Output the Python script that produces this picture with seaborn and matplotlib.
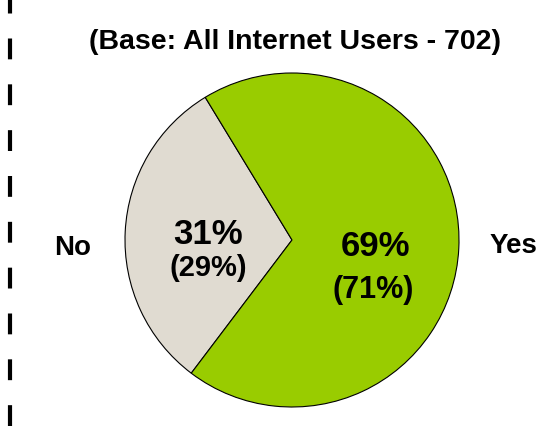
import seaborn as sns
import matplotlib.pyplot as plt

# data
answers = ["No", "Yes"]
shares = [31, 69]
prev_shares = [29, 71]
title = "(Base: All Internet Users - 702)"
colors = ["#E0DBD1", "#99CC00"]

sns.set_theme(style="white")
plt.rcParams['font.family'] = ['Liberation Sans', 'DejaVu Sans']
plt.rcParams['text.color'] = 'black'

fig = plt.figure(figsize=(5.38, 4.26), dpi=100)
ax = fig.add_axes([0, 0, 1, 1])

# pie (centre at pixel 292,240 from top)
ax.pie(shares, colors=colors, startangle=121.3, counterclock=True,
       center=(292, 426 - 240), radius=167, frame=True,
       wedgeprops={"edgecolor": "black", "linewidth": 0.8})
ax.set_xlim(0, 538)
ax.set_ylim(0, 426)
ax.axis("off")

# dashed divider on the left
ax.plot([10, 10], [0, 426], color="black", lw=3, dashes=(5, 6))

ax.text(295, 426 - 42, title, ha="center", va="center",
        fontsize=20.5, fontweight="bold")

# category labels
ax.text(73, 426 - 248, answers[0], ha="center", va="center",
        fontsize=20, fontweight="bold")
ax.text(513, 426 - 246, answers[1], ha="center", va="center",
        fontsize=20, fontweight="bold")

# percentages
ax.text(208, 426 - 235, f"{shares[0]}%", ha="center", va="center",
        fontsize=25, fontweight="bold")
ax.text(208, 426 - 268, f"({prev_shares[0]}%)", ha="center", va="center",
        fontsize=21, fontweight="bold")
ax.text(375, 426 - 247, f"{shares[1]}%", ha="center", va="center",
        fontsize=25, fontweight="bold")
ax.text(373, 426 - 290, f"({prev_shares[1]}%)", ha="center", va="center",
        fontsize=22, fontweight="bold")

fig.savefig("out.png", dpi=100)
